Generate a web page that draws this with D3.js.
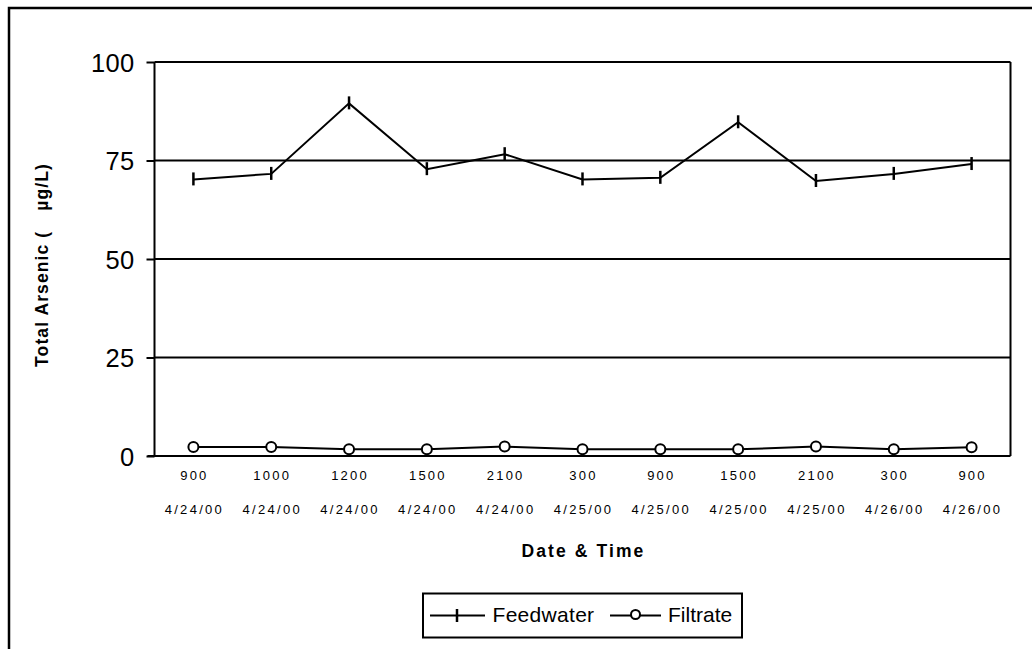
<!DOCTYPE html>
<html><head><meta charset="utf-8">
<script src="https://cdn.jsdelivr.net/npm/d3@7"></script>
<style>body{margin:0;background:#fff}svg{display:block;font-family:Arial,"Liberation Sans",sans-serif}</style>
</head><body>
<svg id="c" width="1032" height="649"></svg>
<script>
const times = ["900","1000","1200","1500","2100","300","900","1500","2100","300","900"];
const dates = ["4/24/00","4/24/00","4/24/00","4/24/00","4/24/00","4/25/00","4/25/00","4/25/00","4/25/00","4/26/00","4/26/00"];
const feedwater = [70.2,71.6,89.5,72.8,76.6,70.2,70.6,84.7,69.8,71.6,74.1];
const filtrate = [2.3,2.3,1.7,1.7,2.4,1.7,1.7,1.7,2.4,1.7,2.2];
const yTicks = [0,25,50,75,100];

const svg = d3.select("#c");
const FONT = "Arial,'Liberation Sans',sans-serif";
const L=154.5, R=1010.5, T=62, B=456;
const idx = d3.range(times.length);
const x = d3.scaleBand().domain(idx).range([L,R]);
const cx = i => x(i)+x.bandwidth()/2;
const y = d3.scaleLinear().domain([0,100]).range([B,T]);

// outer frame
svg.append("path").attr("d","M9,649 V8 H1032").attr("fill","none").attr("stroke","#000").attr("stroke-width",2.5);

// gridlines
svg.append("g").selectAll("line").data(yTicks.filter(d=>d>0)).join("line")
  .attr("x1",L).attr("x2",R).attr("y1",d=>y(d)).attr("y2",d=>y(d))
  .attr("stroke","#000").attr("stroke-width",2);
// right border
svg.append("line").attr("x1",R).attr("x2",R).attr("y1",T).attr("y2",B).attr("stroke","#000").attr("stroke-width",2);

// y axis
const ya = svg.append("g").attr("transform",`translate(${L},0)`)
  .call(d3.axisLeft(y).tickValues(yTicks).tickSize(8).tickPadding(12));
ya.select(".domain").attr("stroke-width",2).attr("d",`M0,${T}V${B}`);
ya.selectAll(".tick line").attr("stroke-width",2);
ya.selectAll("text").attr("font-size",25.5).attr("letter-spacing",0.3).attr("font-family",FONT).attr("fill","#000").attr("dy","0.36em");

// x axis
const xa = svg.append("g").attr("transform",`translate(0,${B})`)
  .call(d3.axisBottom(x).tickSize(0).tickFormat(""));
xa.select(".domain").attr("stroke-width",2).attr("d",`M${L-7},0H${R}`);
svg.append("g").selectAll("text").data(idx).join("text")
  .attr("x",i=>cx(i)+1).attr("y",479.5).attr("text-anchor","middle").attr("font-size",13).attr("letter-spacing",2.2)
  .text(i=>times[i]);
svg.append("g").selectAll("text").data(idx).join("text")
  .attr("x",i=>cx(i)+1).attr("y",513.5).attr("text-anchor","middle").attr("font-size",13).attr("letter-spacing",2.3)
  .text(i=>dates[i]);

// axis titles
svg.append("text").attr("x",(L+R)/2+1).attr("y",557).attr("text-anchor","middle")
  .attr("font-size",17.5).attr("font-weight","bold").attr("letter-spacing",2.1).text("Date & Time");
const yt = svg.append("text").attr("transform",`translate(47.5,265) rotate(-90)`).attr("text-anchor","middle")
  .attr("font-size",17.5).attr("font-weight","bold").attr("letter-spacing",1.1);
yt.append("tspan").text("Total Arsenic (");
yt.append("tspan").attr("dx",20).text("µg/L)");

// lines
const line = d3.line().x((d,i)=>cx(i)).y(d=>y(d));
svg.append("path").datum(feedwater).attr("d",line).attr("fill","none").attr("stroke","#000").attr("stroke-width",2);
svg.append("path").datum(filtrate).attr("d",line).attr("fill","none").attr("stroke","#000").attr("stroke-width",2);
svg.append("g").selectAll("line").data(feedwater).join("line")
  .attr("x1",(d,i)=>cx(i)).attr("x2",(d,i)=>cx(i)).attr("y1",d=>y(d)-7).attr("y2",d=>y(d)+6)
  .attr("stroke","#000").attr("stroke-width",2.5);
svg.append("g").selectAll("circle").data(filtrate).join("circle")
  .attr("cx",(d,i)=>cx(i)).attr("cy",d=>y(d)).attr("r",5)
  .attr("fill","#fff").attr("stroke","#000").attr("stroke-width",2);

// legend
const lg = svg.append("g");
lg.append("rect").attr("x",423).attr("y",593.5).attr("width",319).attr("height",44).attr("fill","#fff").attr("stroke","#000").attr("stroke-width",2);
lg.append("line").attr("x1",430).attr("x2",485).attr("y1",615.5).attr("y2",615.5).attr("stroke","#000").attr("stroke-width",2);
lg.append("line").attr("x1",457).attr("x2",457).attr("y1",609).attr("y2",622).attr("stroke","#000").attr("stroke-width",2.5);
lg.append("text").attr("x",492.5).attr("y",621.5).attr("font-size",21).attr("letter-spacing",0.3).text("Feedwater");
lg.append("line").attr("x1",610).attr("x2",661).attr("y1",615.5).attr("y2",615.5).attr("stroke","#000").attr("stroke-width",2);
lg.append("circle").attr("cx",635.5).attr("cy",614.5).attr("r",4.5).attr("fill","#fff").attr("stroke","#000").attr("stroke-width",2);
lg.append("text").attr("x",668).attr("y",621.5).attr("font-size",21).text("Filtrate");
</script>
</body></html>
